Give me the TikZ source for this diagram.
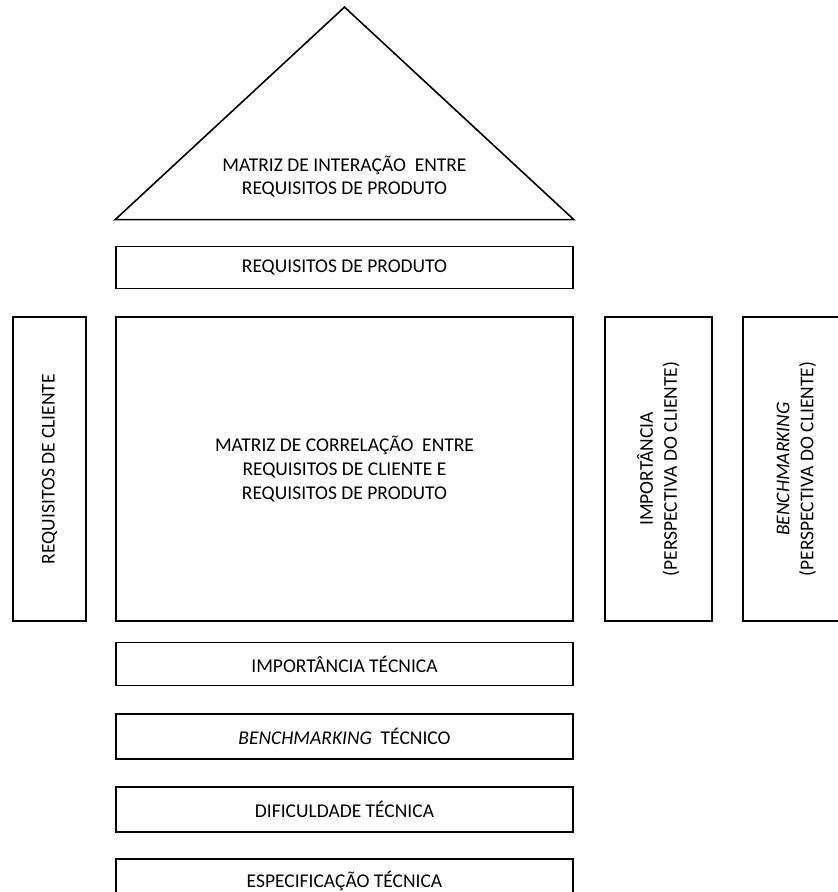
\documentclass[tikz,border=0pt]{standalone}
\usepackage{fontspec}
\setmainfont{Carlito}
\usetikzlibrary{positioning}
\tikzstyle{block} = [rectangle, draw=black, line width=1.6pt, minimum width=457pt, text centered, align=center, inner sep=0pt, font=\fontsize{19.5pt}{24pt}\selectfont]
\tikzstyle{bar} = [block, minimum height=45pt]
\tikzstyle{sidebar} = [block, rotate=90, minimum width=304pt, minimum height=107pt]
\tikzstyle{txt} = [align=center, inner sep=0pt, font=\fontsize{19.5pt}{23pt}\selectfont]

\begin{document}
\begin{tikzpicture}[node distance=27pt]
        \useasboundingbox (0,0) rectangle (838pt,-892pt);
        \clip (0,0) rectangle (838pt,-892pt);
        % Nodes
        \node [block, minimum height=304pt] (corr) at (344.5pt,-469pt) {MATRIZ DE CORRELAÇÃO\ \ ENTRE\\REQUISITOS DE CLIENTE E\\REQUISITOS DE PRODUTO};
        \node [block, minimum height=42pt, above=of corr] (prod) {REQUISITOS DE PRODUTO};
        \node [sidebar, minimum height=73pt] (cli) at ([xshift=-65.5pt]corr.west) {REQUISITOS DE CLIENTE};
        \node [sidebar] (imp) at ([xshift=84.5pt]corr.east) {IMPORTÂNCIA\\(PERSPECTIVA DO CLIENTE)};
        \node [sidebar] (bench) at ([xshift=138pt]imp.center) {\textit{BENCHMARKING}\\(PERSPECTIVA DO CLIENTE)};
        \node [bar, minimum height=43pt, below=20pt of corr] (imptec) {IMPORTÂNCIA TÉCNICA};
        \node [bar, below=of imptec] (benchtec) {\textit{BENCHMARKING}\ \ TÉCNICO};
        \node [bar, below=26pt of benchtec] (dif) {DIFICULDADE TÉCNICA};
        \node [bar, below=25.5pt of dif] (espec) {ESPECIFICAÇÃO TÉCNICA};

        % Roof
        \coordinate [above=26pt of prod.north west] (roof west);
        \coordinate [above=26pt of prod.north east] (roof east);
        \coordinate [above=238.5pt of prod.north] (roof top);
        \draw [line width=1.6pt] (roof west) -- (roof top) -- (roof east) -- cycle;
        \node [txt] (inter) at ([yshift=69.5pt]prod.north) {MATRIZ DE INTERAÇÃO\ \ ENTRE\\REQUISITOS DE PRODUTO};
    \end{tikzpicture}
\end{document}
